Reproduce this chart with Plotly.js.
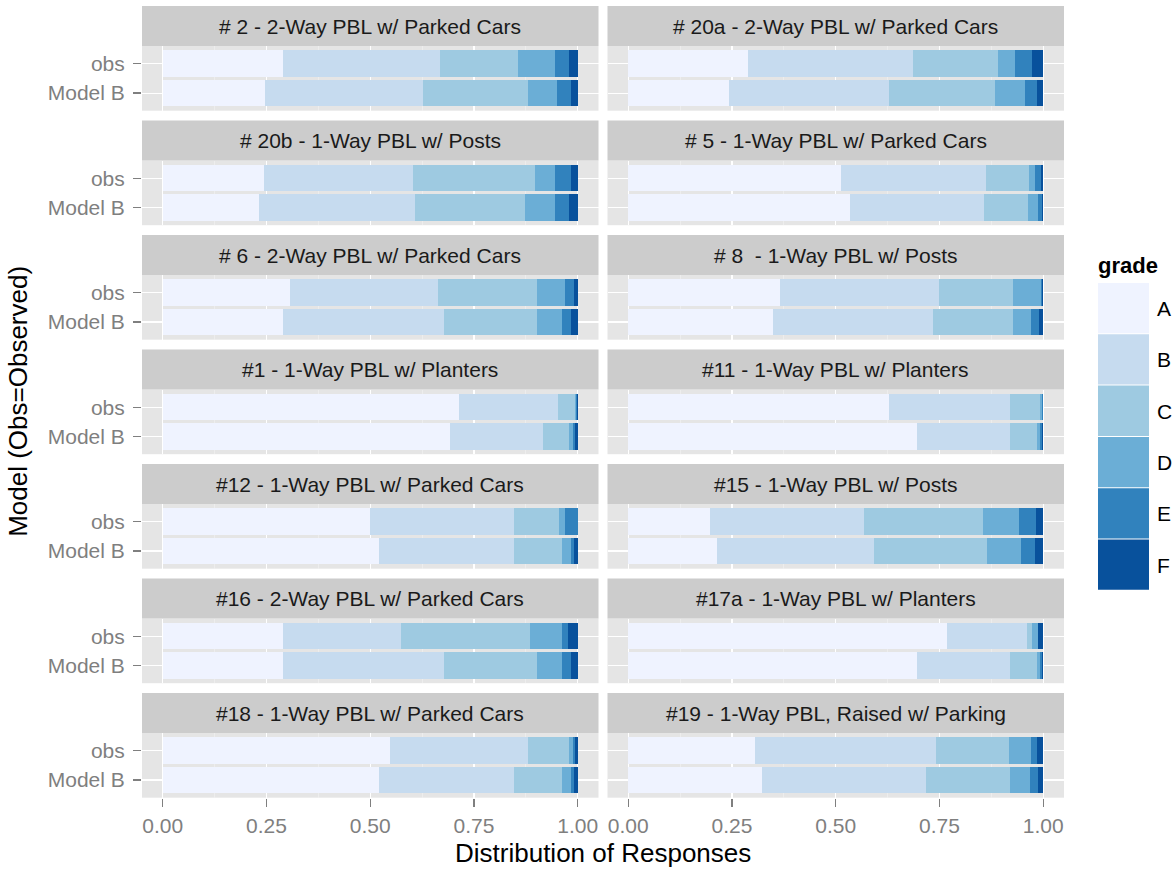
<!DOCTYPE html>
<html>
<head>
<meta charset="utf-8">
<script src="https://cdn.plot.ly/plotly-3.0.1.min.js"></script>
<style>html,body{margin:0;padding:0;background:#fff;}#chart{width:1175px;height:869px;}</style>
</head>
<body>
<div id="chart"></div>
<script>
// ---- data ----
const panelTitles = [
  "# 2 - 2-Way PBL w/ Parked Cars", "# 20a - 2-Way PBL w/ Parked Cars",
  "# 20b - 1-Way PBL w/ Posts", "# 5 - 1-Way PBL w/ Parked Cars",
  "# 6 - 2-Way PBL w/ Parked Cars", "# 8  - 1-Way PBL w/ Posts",
  "#1 - 1-Way PBL w/ Planters", "#11 - 1-Way PBL w/ Planters",
  "#12 - 1-Way PBL w/ Parked Cars", "#15 - 1-Way PBL w/ Posts",
  "#16 - 2-Way PBL w/ Parked Cars", "#17a - 1-Way PBL w/ Planters",
  "#18 - 1-Way PBL w/ Parked Cars", "#19 - 1-Way PBL, Raised w/ Parking"
];
const grades = ["A", "B", "C", "D", "E", "F"];
const gradeColors = ["#EFF3FF", "#C6DBEF", "#9ECAE1", "#6BAED6", "#3182BD", "#08519C"];
const models = ["Model B", "obs"];   // bottom to top
// shares of grades A..F, one row per panel
const obsShares = [
  [0.289, 0.380, 0.188, 0.087, 0.036, 0.020],
  [0.289, 0.396, 0.205, 0.041, 0.043, 0.026],
  [0.243, 0.361, 0.292, 0.048, 0.040, 0.016],
  [0.512, 0.349, 0.105, 0.015, 0.013, 0.006],
  [0.306, 0.358, 0.239, 0.067, 0.020, 0.010],
  [0.366, 0.382, 0.180, 0.066, 0.004, 0.002],
  [0.713, 0.240, 0.041, 0.001, 0.002, 0.003],
  [0.628, 0.293, 0.070, 0.006, 0.002, 0.001],
  [0.499, 0.347, 0.110, 0.014, 0.030, 0.000],
  [0.196, 0.371, 0.287, 0.087, 0.042, 0.017],
  [0.289, 0.284, 0.313, 0.077, 0.013, 0.024],
  [0.767, 0.193, 0.013, 0.014, 0.001, 0.012],
  [0.547, 0.332, 0.101, 0.009, 0.004, 0.007],
  [0.306, 0.436, 0.175, 0.053, 0.014, 0.016]
];
const modelBShares = [
  [0.246, 0.380, 0.253, 0.072, 0.032, 0.017],
  [0.243, 0.386, 0.254, 0.073, 0.028, 0.016],
  [0.231, 0.378, 0.265, 0.072, 0.034, 0.020],
  [0.535, 0.323, 0.105, 0.024, 0.009, 0.004],
  [0.289, 0.388, 0.226, 0.058, 0.023, 0.016],
  [0.348, 0.387, 0.192, 0.043, 0.019, 0.011],
  [0.691, 0.226, 0.063, 0.009, 0.005, 0.006],
  [0.695, 0.226, 0.063, 0.007, 0.005, 0.004],
  [0.520, 0.327, 0.114, 0.022, 0.008, 0.009],
  [0.215, 0.376, 0.273, 0.082, 0.034, 0.020],
  [0.289, 0.388, 0.226, 0.058, 0.023, 0.016],
  [0.695, 0.226, 0.063, 0.007, 0.005, 0.004],
  [0.520, 0.327, 0.114, 0.022, 0.008, 0.009],
  [0.323, 0.394, 0.203, 0.047, 0.020, 0.013]
];
const xTickVals = [0, 0.25, 0.5, 0.75, 1];
const xTickText = ["0.00", "0.25", "0.50", "0.75", "1.00"];

// ---- layout geometry (pixels) ----
const W = 1175, H = 869;
const FONT = "Liberation Sans, Arial, Helvetica, sans-serif";
const colX = [[142, 598.5], [607.5, 1064]];
const ROW0 = 6, ROWSTEP = 114.5, STRIP = 40, BODY = 64.7;
const px = x => x / W;
const py = y => 1 - y / H;

const traces = [];
const layout = {
  width: W, height: H,
  margin: {l: 0, r: 0, t: 0, b: 0},
  paper_bgcolor: "#FFFFFF",
  plot_bgcolor: "#E5E5E5",
  barmode: "stack",
  showlegend: false,
  font: {family: FONT, color: "#000"},
  shapes: [],
  annotations: []
};

panelTitles.forEach((title, i) => {
  const n = i + 1;
  const row = Math.floor(i / 2), col = i % 2;
  const top = ROW0 + row * ROWSTEP;
  const bodyTop = top + STRIP, bodyBot = bodyTop + BODY;
  const [xl, xr] = colX[col];
  const xa = "x" + (n === 1 ? "" : n), ya = "y" + (n === 1 ? "" : n);
  const xkey = "xaxis" + (n === 1 ? "" : n), ykey = "yaxis" + (n === 1 ? "" : n);

  grades.forEach((g, k) => {
    traces.push({
      type: "bar", orientation: "h",
      x: [modelBShares[i][k], obsShares[i][k]],
      y: models,
      xaxis: xa, yaxis: ya,
      width: 0.9,
      marker: {color: gradeColors[k], line: {width: 0}},
      name: g, showlegend: false, hoverinfo: "x+name"
    });
  });

  const bottomRow = row === 6, leftCol = col === 0;
  layout[xkey] = {
    domain: [px(xl), px(xr)], anchor: ya,
    range: [-0.05, 1.05], fixedrange: true,
    tickvals: xTickVals, ticktext: xTickText,
    showticklabels: bottomRow, ticks: bottomRow ? "outside" : "",
    ticklen: 8, tickwidth: 1.2, tickcolor: "#7F7F7F",
    ticklabelstandoff: 1,
    tickfont: {family: FONT, size: 21, color: "#7F7F7F"},
    showgrid: true, gridcolor: "#FFFFFF", gridwidth: 1.1,
    minor: {tickvals: [0.125, 0.375, 0.625, 0.875], showgrid: true, gridcolor: "#F2F2F2", gridwidth: 0.6, ticks: ""},
    zeroline: false, showline: false
  };
  layout[ykey] = {
    domain: [py(bodyBot), py(bodyTop)], anchor: xa,
    type: "category", categoryorder: "array", categoryarray: models,
    range: [-0.6, 1.6], fixedrange: true,
    showticklabels: leftCol, ticks: leftCol ? "outside" : "",
    ticklen: 8, tickwidth: 1.2, tickcolor: "#7F7F7F",
    ticklabelstandoff: 4,
    tickfont: {family: FONT, size: 21, color: "#7F7F7F"},
    showgrid: true, gridcolor: "#FFFFFF", gridwidth: 1.1,
    zeroline: false, showline: false
  };

  layout.shapes.push({
    type: "rect", xref: "paper", yref: "paper", layer: "below",
    x0: px(xl), x1: px(xr), y0: py(bodyTop), y1: py(top),
    fillcolor: "#CCCCCC", line: {width: 0}
  });
  layout.annotations.push({
    xref: "paper", yref: "paper", showarrow: false,
    x: px((xl + xr) / 2), y: py(top + STRIP / 2),
    xanchor: "center", yanchor: "middle",
    text: title.replace(/  /g, " &nbsp;"),
    font: {family: FONT, size: 21, color: "#1A1A1A"}
  });
});

// axis titles
layout.annotations.push({
  xref: "paper", yref: "paper", showarrow: false,
  x: px((colX[0][0] + colX[1][1]) / 2), y: py(853),
  xanchor: "center", yanchor: "middle",
  text: "Distribution of Responses",
  font: {family: FONT, size: 26, color: "#000"}
});
layout.annotations.push({
  xref: "paper", yref: "paper", showarrow: false,
  x: px(18), y: py((ROW0 + ROW0 + 6 * ROWSTEP + STRIP + BODY) / 2),
  xanchor: "center", yanchor: "middle", textangle: -90,
  text: "Model (Obs=Observed)",
  font: {family: FONT, size: 26, color: "#000"}
});

// legend (drawn from grades / gradeColors)
const LX0 = 1098, LX1 = 1149, LY0 = 283, LKEY = 51.3;
layout.annotations.push({
  xref: "paper", yref: "paper", showarrow: false,
  x: px(LX0 - 2), y: py(265), xanchor: "left", yanchor: "middle",
  text: "<b>grade</b>", font: {family: FONT, size: 22, color: "#000"}
});
grades.forEach((g, k) => {
  const y0 = LY0 + k * LKEY;
  layout.shapes.push({
    type: "rect", xref: "paper", yref: "paper",
    x0: px(LX0), x1: px(LX1), y0: py(y0 + LKEY - 1), y1: py(y0),
    fillcolor: gradeColors[k], line: {width: 0}
  });
  layout.annotations.push({
    xref: "paper", yref: "paper", showarrow: false,
    x: px(1155), y: py(y0 + LKEY / 2), xanchor: "left", yanchor: "middle",
    text: g, font: {family: FONT, size: 21, color: "#000"}
  });
});

Plotly.newPlot("chart", traces, layout, {staticPlot: true, displayModeBar: false});
</script>
</body>
</html>
